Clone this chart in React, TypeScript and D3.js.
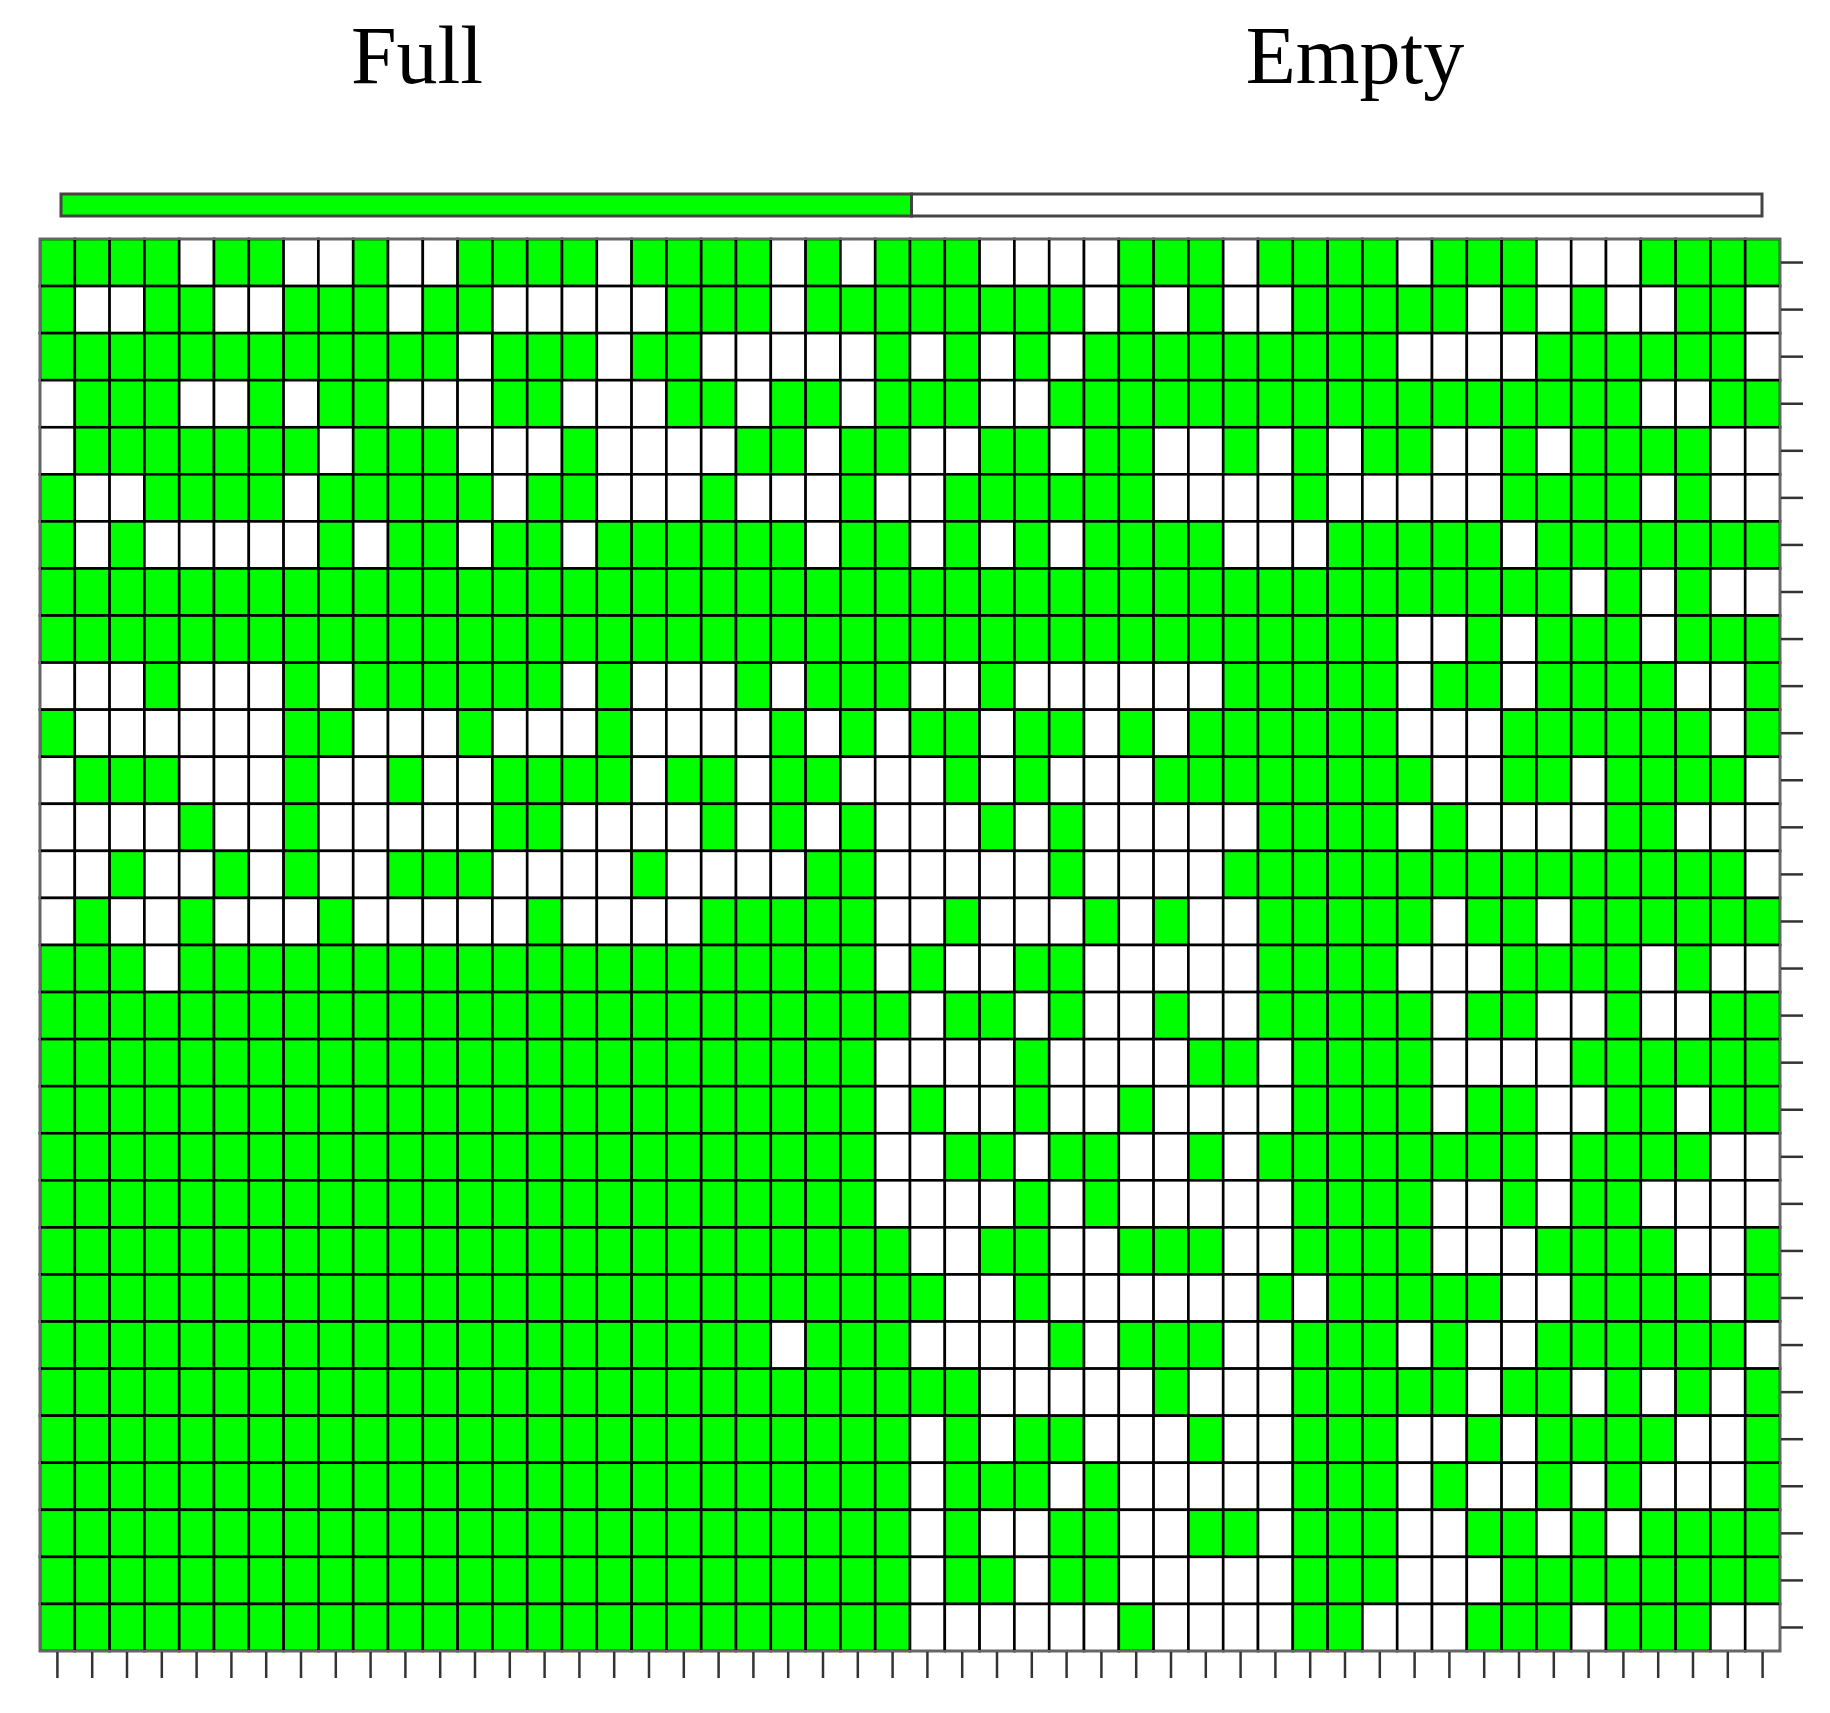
import React from "react";
import * as d3 from "d3";

// Group labels and how many columns each group spans
const groups: string[] = ["Full", "Empty"];
const groupSizes: number[] = [25, 25];

// 30 rows x 50 columns; "1" = present (green), "0" = absent (white)
const rows: string[] = [
  "111101100100" + "1111011110101" + "110000111011" + "1101110001111",
  "100110011101" + "1000001110111" + "111110101001" + "1111010100110",
  "111111111111" + "0111011000001" + "010101111111" + "1100001111110",
  "011100101100" + "0110001101101" + "110011111111" + "1111111110011",
  "011111110111" + "0001000011011" + "001101100101" + "0110010111100",
  "100111101111" + "1011000100010" + "011111100001" + "0000011110100",
  "101000001011" + "0110111111011" + "010101111000" + "1111101111111",
  "111111111111" + "1111111111111" + "111111111111" + "1111111010100",
  "111111111111" + "1111111111111" + "111111111111" + "1100101110111",
  "000100010111" + "1110100010111" + "001000000111" + "1101101111001",
  "100000011000" + "1000100001010" + "110110101111" + "1100011111101",
  "011100010010" + "0111101101100" + "010100011111" + "1110011011110",
  "000010010000" + "0110000101010" + "001010000011" + "1101000011000",
  "001001010011" + "1000010000110" + "000010000111" + "1111111111110",
  "010010001000" + "0010000111110" + "010001010011" + "1110110111111",
  "111011111111" + "1111111111110" + "100110000011" + "1100011110100",
  "111111111111" + "1111111111111" + "011010010011" + "1110110010011",
  "111111111111" + "1111111111110" + "000100001101" + "1110000111111",
  "111111111111" + "1111111111110" + "100100100001" + "1110110011011",
  "111111111111" + "1111111111110" + "011011001011" + "1111110111100",
  "111111111111" + "1111111111110" + "000101000001" + "1110010110000",
  "111111111111" + "1111111111111" + "001100111001" + "1110001111001",
  "111111111111" + "1111111111111" + "100100000010" + "1111100111101",
  "111111111111" + "1111111110111" + "000010111001" + "1101001111110",
  "111111111111" + "1111111111111" + "110000010001" + "1111011010101",
  "111111111111" + "1111111111111" + "010110001001" + "1100101111001",
  "111111111111" + "1111111111111" + "011101000001" + "1101001010001",
  "111111111111" + "1111111111111" + "010011001101" + "1100110101111",
  "111111111111" + "1111111111111" + "011011000001" + "1100011111111",
  "111111111111" + "1111111111111" + "000000100001" + "1000111011100",
];

const GREEN = "#00ff00";

export default function App() {
  const nCols = rows[0].length;
  const nRows = rows.length;
  const colIdx = d3.range(nCols);
  const rowIdx = d3.range(nRows);

  // page coordinates (svg shifted by body margin)
  const x = d3.scaleBand<number>().domain(colIdx).range([40, 1780]).padding(0);
  const y = d3.scaleBand<number>().domain(rowIdx).range([239, 1651]).padding(0);

  // column group annotation bar
  const barX = d3.scaleLinear().domain([0, nCols]).range([61, 1762]);
  const starts = d3.cumsum([0, ...groupSizes.slice(0, -1)]);
  const groupColors = [GREEN, "#ffffff"];
  const titleX = [417, 1355];

  return (
    <svg width={1822} height={1705} style={{ display: "block" }}>
      <g transform="translate(-8,-8)">
        <rect x={0} y={0} width={1830} height={1713} fill="#ffffff" />
        {groups.map((g, i) => (
          <text
            key={g}
            x={titleX[i]}
            y={83}
            textAnchor="middle"
            fontFamily="'Liberation Serif', 'Times New Roman', serif"
            fontSize={82}
            fill="#000"
          >
            {g}
          </text>
        ))}
        {groups.map((g, i) => (
          <rect
            key={"bar" + g}
            x={barX(starts[i])}
            y={194}
            width={barX(starts[i] + groupSizes[i]) - barX(starts[i])}
            height={22}
            fill={groupColors[i]}
            stroke="#444"
            strokeWidth={3}
          />
        ))}
        {rowIdx.map((r) =>
          colIdx.map((c) => (
            <rect
              key={r + "-" + c}
              x={x(c)}
              y={y(r)}
              width={x.bandwidth()}
              height={y.bandwidth()}
              fill={rows[r][c] === "1" ? GREEN : "#ffffff"}
              stroke="#000"
              strokeWidth={2.6}
            />
          ))
        )}
        <rect x={40} y={239} width={1740} height={1412} fill="none" stroke="#666" strokeWidth={2} />
        {colIdx.map((c) => (
          <line
            key={"bt" + c}
            x1={x(c)! + x.bandwidth() / 2}
            x2={x(c)! + x.bandwidth() / 2}
            y1={1652}
            y2={1678}
            stroke="#333"
            strokeWidth={2.5}
          />
        ))}
        {rowIdx.map((r) => (
          <line
            key={"rt" + r}
            x1={1781}
            x2={1803}
            y1={y(r)! + y.bandwidth() / 2}
            y2={y(r)! + y.bandwidth() / 2}
            stroke="#333"
            strokeWidth={2.5}
          />
        ))}
      </g>
    </svg>
  );
}
